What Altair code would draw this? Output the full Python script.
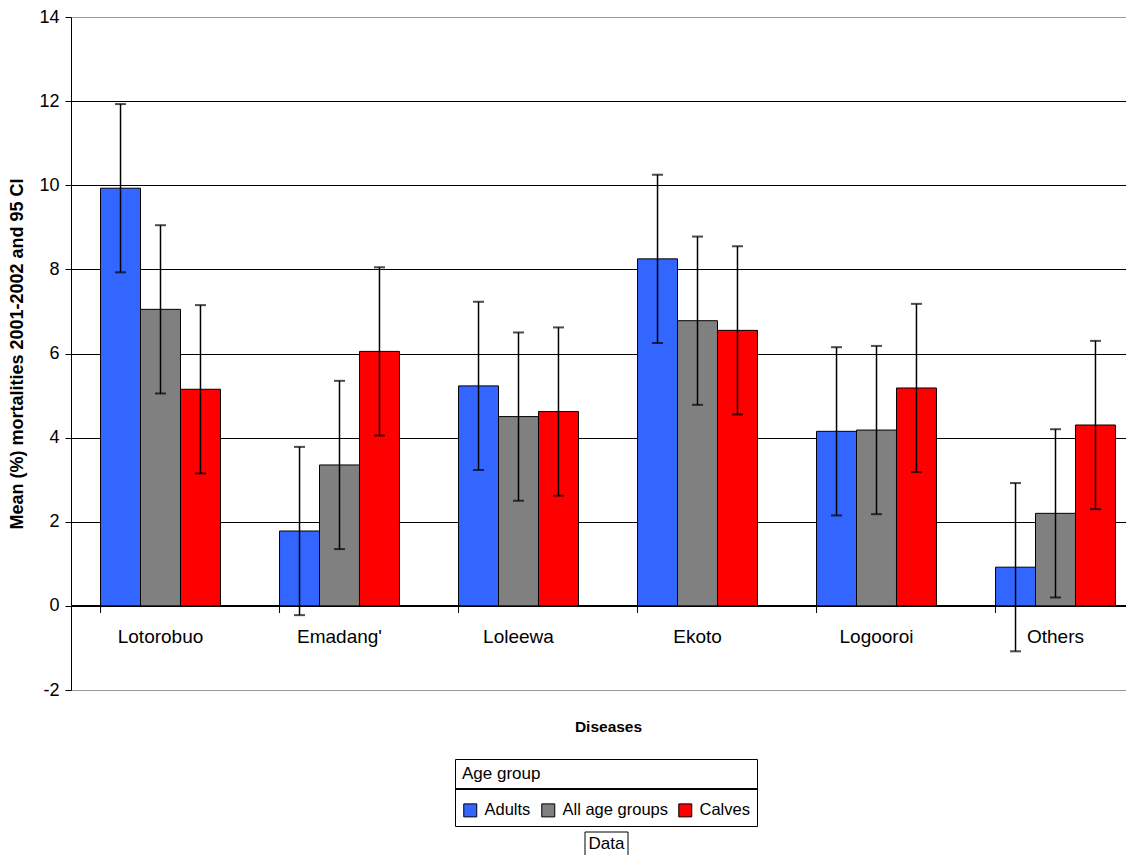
import altair as alt
import pandas as pd

diseases = ["Lotorobuo", "Emadang'", "Loleewa", "Ekoto", "Logooroi", "Others"]
groups = ["Adults", "All age groups", "Calves"]
adults = [9.93, 1.78, 5.23, 8.25, 4.15, 0.92]
all_ages = [7.05, 3.35, 4.50, 6.78, 4.18, 2.20]
calves = [5.15, 6.05, 4.62, 6.55, 5.18, 4.30]
adults_lo = [7.93, -0.22, 3.23, 6.25, 2.15, -1.08]
adults_hi = [11.93, 3.78, 7.23, 10.25, 6.15, 2.92]
all_lo = [5.05, 1.35, 2.50, 4.78, 2.18, 0.20]
all_hi = [9.05, 5.35, 6.50, 8.78, 6.18, 4.20]
calves_lo = [3.15, 4.05, 2.62, 4.55, 3.18, 2.30]
calves_hi = [7.15, 8.05, 6.62, 8.55, 7.18, 6.30]
colors = ["#3366FF", "#808080", "#FF0000"]

rows = []
for g, vals, lo, hi in [
    (groups[0], adults, adults_lo, adults_hi),
    (groups[1], all_ages, all_lo, all_hi),
    (groups[2], calves, calves_lo, calves_hi),
]:
    for d, v, l, h in zip(diseases, vals, lo, hi):
        rows.append({"disease": d, "group": g, "value": v, "lo": l, "hi": h})
df = pd.DataFrame(rows)
cats = pd.DataFrame({"disease": diseases})

FONT = "Liberation Sans"
W, H = 1074, 673

xs = alt.Scale(domain=diseases, paddingInner=0.33, paddingOuter=0.165)
ys = alt.Scale(domain=[-2, 14], nice=False)

x_enc = alt.X(
    "disease:N", scale=xs, sort=diseases,
    axis=alt.Axis(
        title="Diseases", titleFont=FONT, titleFontSize=15.5, titleFontWeight="bold",
        titleColor="black", titleY=121, titleBaseline="middle",
        labelAngle=0, labelFont=FONT, labelFontSize=19, labelColor="black",
        labelPadding=22, domain=False, ticks=False, offset=-84.1,
    ),
)
y_enc = alt.Y(
    "value:Q", scale=ys,
    axis=alt.Axis(
        title="Mean (%) mortalities 2001-2002 and 95 CI", titleFont=FONT,
        titleFontSize=18, titleFontWeight="bold", titleColor="black", titlePadding=12,
        values=list(range(-2, 15, 2)), labelExpr="'' + datum.value",
        labelFont=FONT, labelFontSize=18,
        labelColor="black", labelPadding=6, tickColor="black", tickSize=6,
        domainColor="black", grid=True,
        gridColor={"condition": {"test": "datum.value == 14 || datum.value == -2",
                                 "value": "#999999"}, "value": "black"},
        gridWidth=1,
    ),
)

bars = alt.Chart(df).mark_bar(stroke="black", strokeWidth=1).encode(
    x=x_enc,
    xOffset=alt.XOffset("group:N", sort=groups),
    y=y_enc,
    color=alt.Color(
        "group:N", sort=groups,
        scale=alt.Scale(domain=groups, range=colors),
        legend=alt.Legend(
            title="Age group", orient="none", direction="horizontal",
            legendX=384, legendY=742, titleFont=FONT, titleFontSize=17,
            titleFontWeight="normal", titleColor="black", titlePadding=19,
            labelFont=FONT, labelFontSize=16.5, labelColor="black",
            symbolType="square", symbolSize=169, symbolStrokeColor="black",
            symbolStrokeWidth=1, symbolOpacity=1, columnPadding=8, labelOffset=6,
            strokeColor="black", padding=7,
        ),
    ),
)

zero = alt.Chart(cats).mark_rule(color="black", strokeWidth=1).encode(
    y=alt.datum(0, scale=ys)
)

ticks = alt.Chart(cats).mark_rule(color="black", strokeWidth=1).encode(
    x=alt.X("disease:N", scale=xs, sort=diseases, bandPosition=0),
    y=alt.datum(0, scale=ys),
    y2=alt.datum(-0.17),
)

err = alt.Chart(df).mark_rule(color="black", strokeWidth=1.5).encode(
    x=alt.X("disease:N", scale=xs, sort=diseases),
    xOffset=alt.XOffset("group:N", sort=groups),
    y=alt.Y("lo:Q", scale=ys),
    y2="hi:Q",
)
cap_lo = alt.Chart(df).mark_tick(color="black", thickness=2, size=11, orient="horizontal").encode(
    x=alt.X("disease:N", scale=xs, sort=diseases),
    xOffset=alt.XOffset("group:N", sort=groups),
    y=alt.Y("lo:Q", scale=ys),
)
cap_hi = alt.Chart(df).mark_tick(color="black", thickness=2, size=11, orient="horizontal").encode(
    x=alt.X("disease:N", scale=xs, sort=diseases),
    xOffset=alt.XOffset("group:N", sort=groups),
    y=alt.Y("hi:Q", scale=ys),
)

sep = alt.Chart(cats).mark_rule(color="black", strokeWidth=1, clip=False).encode(
    x=alt.value(384), x2=alt.value(686), y=alt.value(772)
)
data_box = alt.Chart(pd.DataFrame({"t": ["Data"]})).mark_rect(
    fill="white", stroke="black", strokeWidth=1, clip=False
).encode(x=alt.value(514), x2=alt.value(557), y=alt.value(815), y2=alt.value(850))
data_txt = alt.Chart(pd.DataFrame({"t": ["Data"]})).mark_text(
    font=FONT, fontSize=17, color="black", clip=False
).encode(x=alt.value(535.5), y=alt.value(827), text="t:N")

chart = alt.layer(zero, bars, ticks, err, cap_lo, cap_hi, sep, data_box, data_txt).properties(
    width=W, height=H,
    autosize=alt.AutoSizeParams(type="none"),
    padding={"left": 63, "top": 9, "right": -19, "bottom": 165},
).configure_view(stroke="#999999", strokeWidth=1).configure(background="white")

chart.save("out.html", embed_options={"renderer": "svg", "actions": False})
